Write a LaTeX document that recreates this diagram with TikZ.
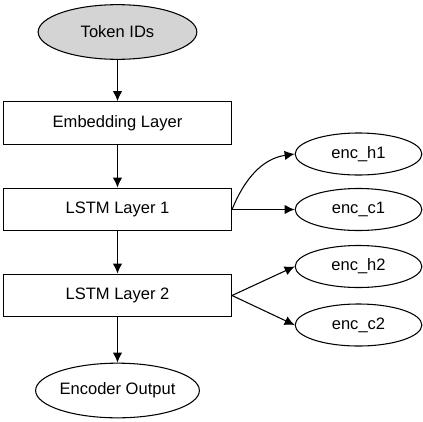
\documentclass[tikz,border=0pt]{standalone}
\usepackage{fontspec}
\setmainfont{Liberation Sans}
\usetikzlibrary{shapes.geometric, arrows.meta}

\begin{document}
\begin{tikzpicture}[
        x=0.75pt, y=-0.75pt, % координаты в пикселях
        font=\fontsize{12.4}{15}\selectfont,
        edge/.style = {draw, -{Latex[length=7.5pt, width=7pt]}, line width=0.8pt},
        layer/.style={rectangle, draw, line width=0.8pt, minimum width=171pt, minimum height=32pt, inner sep=0pt}, % Стиль слоев
        io/.style={ellipse, draw, line width=0.8pt, minimum width=119pt, minimum height=41pt, inner sep=0pt},
        state/.style={ellipse, draw, line width=0.8pt, minimum width=95pt, minimum height=31.5pt, inner sep=0pt}, % Состояния
    ]
    \useasboundingbox (0,0) rectangle (423,421);

    \node[io, fill=black!17] (ids) at (117.5,32) {Token IDs};
    \node[layer] (emb) at (117.5,123) {Embedding Layer};
    \node[layer] (lstm1) at (117.5,209.5) {LSTM Layer 1};
    \node[layer] (lstm2) at (117.5,295.5) {LSTM Layer 2};
    \node[io] (out) at (117.5,390.5) {Encoder Output};

    \node[state] (h1) at (358.5,154) {enc\_h1};
    \node[state] (c1) at (358.5,209.5) {enc\_c1};
    \node[state] (h2) at (358.5,266.5) {enc\_h2};
    \node[state] (c2) at (358.5,325) {enc\_c2};

    \path[edge] (ids) -- (emb);
    \path[edge] (emb) -- (lstm1);
    \path[edge] (lstm1) -- (lstm2);
    \path[edge] (lstm2) -- (out);

    \path[edge] (lstm1.east) to[out=68, in=188] (h1.west);
    \path[edge] (lstm1.east) -- (c1.west);
    \path[edge] (lstm2.east) -- (h2.west);
    \path[edge] (lstm2.east) -- (c2.west);

\end{tikzpicture}
\end{document}
